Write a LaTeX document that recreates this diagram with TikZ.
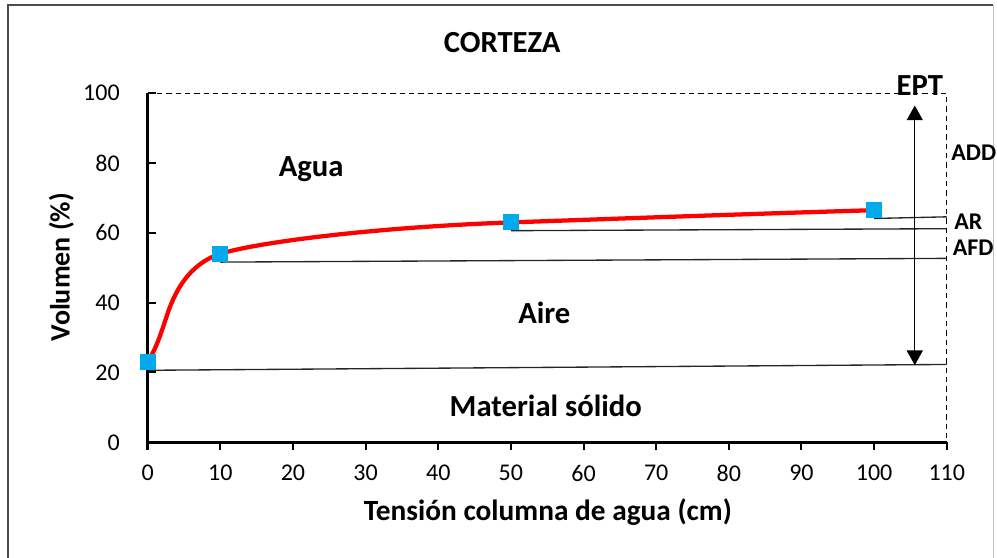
\documentclass[tikz,border=0pt]{standalone}
\usepackage{fontspec}
\setmainfont{Carlito}
\usetikzlibrary{arrows.meta,backgrounds}
\definecolor{azulpto}{RGB}{0,170,235}

\begin{document}
\begin{tikzpicture}[x=5.448pt,y=2.6175pt,
		eje/.style={line width=2.2pt},
		marca/.style={line width=1.5pt},
		guia/.style={line width=1.1pt,dash pattern=on 4pt off 3pt},
		linea/.style={line width=1pt,color=black!85},
		punto/.style={fill=azulpto,minimum size=12pt,inner sep=0pt},
		etiq/.style={font=\bfseries\fontsize{23}{27}\selectfont},
		chica/.style={font=\bfseries\fontsize{18}{21}\selectfont,anchor=west,inner sep=0pt,text height=12pt,text depth=0pt},
		num/.style={font=\fontsize{18}{21}\selectfont}]
		\useasboundingbox (-20.33,-33.15) rectangle (116.92,126.73);
		\draw[black!70,line width=0.8pt] (-19.23,-40) -- (-19.23,125.3) -- (116.43,125.3);
		\draw[black!25,line width=0.8pt] (116.43,125.3) -- (116.43,-40);
		
		\foreach \y in {0,20,...,100} {
			\draw[marca] (0,\y) -- (1.1,\y);
			\node[num,anchor=east] at (-3.2,\y) {\y};
		}
		\foreach \x in {0,10,...,110} {
			\draw[marca] (\x,0) -- (\x,-2.2);
			\node[num] at (\x,-8.8) {\x};
		}
		\draw[eje] (0,-2.2) -- (0,100);
		\draw[eje] (0,0) -- (110,0);
		\draw[guia] (0,100) -- (110,100) -- (110,0);
		
		\draw[red,line width=3.2pt] (0,23) .. controls (1.2,27) and (1.8,31) .. (2.6,36)
			.. controls (3.6,42.5) and (5.5,51) .. (10,54)
			.. controls (14.5,57) and (30,61.5) .. (50,63)
			.. controls (65,64.1) and (85,65.6) .. (100,66.5);
		\node[punto] (p0) at (0,23) {};
		\node[punto] (p10) at (10,54) {};
		\node[punto] (p50) at (50,63) {};
		\node[punto] (p100) at (100,66.5) {};
		
		\coordinate (r0) at (110,22.3);
		\coordinate (r10) at (110,52.7);
		\coordinate (r50) at (110,61.2);
		\coordinate (r100) at (110,64.6);
		\begin{scope}[on background layer]
			\draw[linea] (p0.south) -- (r0);
			\draw[linea] (p10.south) -- (r10);
			\draw[linea] (p50.south) -- (r50);
			\draw[linea] (p100.south) -- (r100);
		\end{scope}
		
		\coordinate (ept1) at (105.6,96.5);
		\coordinate (ept2) at (105.6,22.1);
		\draw[line width=1pt,{Triangle[length=11pt,width=12pt]}-{Triangle[length=11pt,width=12pt]}] (ept1) -- (ept2);
		
		\node[etiq] (titulo) at (48.8,114.5) {CORTEZA};
		\node[etiq] (ept) at (106.3,102.1) {EPT};
		\node[chica] (add) at (110.6,83) {ADD};
		\node[chica] (ar) at (111,63.2) {AR};
		\node[chica] (afd) at (110.8,55.8) {AFD};
		\node[etiq] (agua) at (22.5,78.3) {Agua};
		\node[etiq] (aire) at (54.6,37) {Aire};
		\node[etiq] (solido) at (54.8,10.4) {Material sólido};
		\node[etiq,font=\bfseries\fontsize{21}{25}\selectfont,rotate=90] (ylab) at (-11.9,50.2) {Volumen (\%)};
		\node[etiq,font=\bfseries\fontsize{22}{26}\selectfont] (xlab) at (55.1,-20) {Tensión columna de agua (cm)};
	\end{tikzpicture}
\end{document}
